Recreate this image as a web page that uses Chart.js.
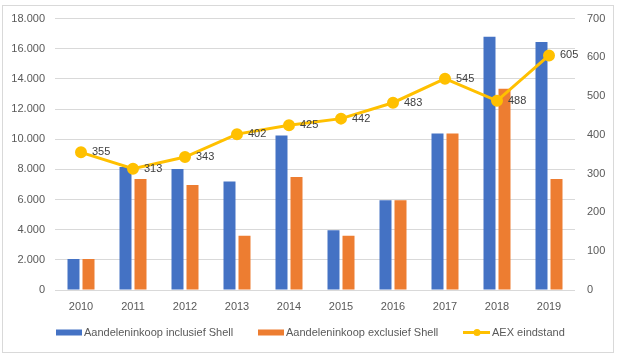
<!DOCTYPE html>
<html>
<head>
<meta charset="utf-8">
<script src="https://cdn.jsdelivr.net/npm/chart.js@4/dist/chart.umd.min.js"></script>
<style>
html,body{margin:0;padding:0;background:#fff;}
#wrap{width:620px;height:357px;position:relative;}
</style>
</head>
<body>
<div id="wrap"><canvas id="c" width="620" height="357"></canvas></div>
<script>
const years = ['2010','2011','2012','2013','2014','2015','2016','2017','2018','2019'];
const inclShell = [2050, 8150, 8030, 7200, 10250, 3970, 5950, 10380, 16800, 16450];
const exclShell = [2050, 7370, 6970, 3600, 7500, 3590, 5950, 10380, 13350, 7370];
const aex = [355, 313, 343, 402, 425, 442, 483, 545, 488, 605];
const seriesNames = ['Aandeleninkoop inclusief Shell', 'Aandeleninkoop exclusief Shell', 'AEX eindstand'];

const FONT = 'Liberation Sans, Arial, sans-serif';
const TXT = '#595959';

const frame = {
  id: 'frame',
  beforeDraw(chart) {
    const ctx = chart.ctx;
    ctx.save();
    ctx.fillStyle = '#fff';
    ctx.fillRect(0, 0, chart.width, chart.height);
    ctx.strokeStyle = '#d9d9d9';
    ctx.lineWidth = 1;
    ctx.strokeRect(2.5, 5.5, 611, 347);
    ctx.restore();
  }
};

const labels = {
  id: 'pointLabels',
  afterDatasetsDraw(chart) {
    const ctx = chart.ctx;
    const meta = chart.getDatasetMeta(2);
    ctx.save();
    ctx.font = '11px ' + FONT;
    ctx.fillStyle = '#404040';
    ctx.textAlign = 'left';
    ctx.textBaseline = 'middle';
    meta.data.forEach((pt, i) => {
      ctx.fillText(String(aex[i]), pt.x + 11, pt.y);
    });
    ctx.restore();
  }
};

const legend = {
  id: 'customLegend',
  afterDraw(chart) {
    const ctx = chart.ctx;
    const y = 332.5;
    ctx.save();
    ctx.font = '11px ' + FONT;
    ctx.fillStyle = TXT;
    ctx.textBaseline = 'middle';
    ctx.textAlign = 'left';
    ctx.fillStyle = '#4472C4';
    ctx.fillRect(56, 329.5, 26, 6);
    ctx.fillStyle = TXT;
    ctx.fillText(seriesNames[0], 84, y);
    ctx.fillStyle = '#ED7D31';
    ctx.fillRect(258, 329.5, 26, 6);
    ctx.fillStyle = TXT;
    ctx.fillText(seriesNames[1], 286, y);
    ctx.strokeStyle = '#FFC000';
    ctx.lineWidth = 3;
    ctx.beginPath();
    ctx.moveTo(463, y);
    ctx.lineTo(490, y);
    ctx.stroke();
    ctx.fillStyle = '#FFC000';
    ctx.beginPath();
    ctx.arc(477, y, 3.5, 0, Math.PI * 2);
    ctx.fill();
    ctx.fillStyle = TXT;
    ctx.fillText(seriesNames[2], 492, y);
    ctx.restore();
  }
};

new Chart(document.getElementById('c'), {
  data: {
    labels: years,
    datasets: [
      {
        type: 'bar',
        label: seriesNames[0],
        data: inclShell,
        backgroundColor: '#4472C4',
        yAxisID: 'y',
        order: 1,
        categoryPercentage: 0.577,
        barPercentage: 0.8
      },
      {
        type: 'bar',
        label: seriesNames[1],
        data: exclShell,
        backgroundColor: '#ED7D31',
        yAxisID: 'y',
        order: 1,
        categoryPercentage: 0.577,
        barPercentage: 0.8
      },
      {
        type: 'line',
        label: seriesNames[2],
        data: aex,
        borderColor: '#FFC000',
        backgroundColor: '#FFC000',
        borderWidth: 3,
        pointRadius: 4.5,
        pointBackgroundColor: '#FFC000',
        pointBorderColor: '#FFC000',
        tension: 0,
        yAxisID: 'y1',
        order: 0
      }
    ]
  },
  options: {
    responsive: false,
    animation: false,
    devicePixelRatio: 1,
    layout: { padding: { top: 15.5, left: 0, right: 0, bottom: 0 } },
    plugins: {
      legend: { display: false },
      tooltip: { enabled: false }
    },
    scales: {
      x: {
        grid: { display: false, drawTicks: false },
        border: { display: false },
        ticks: { color: TXT, font: { family: FONT, size: 11 }, padding: 10, maxRotation: 0 },
        afterFit(s) { s.height = 67; }
      },
      y: {
        position: 'left',
        min: 0, max: 18000,
        ticks: {
          stepSize: 2000,
          color: TXT,
          font: { family: FONT, size: 11 },
          padding: 10,
          callback: v => v === 0 ? '0' : v.toLocaleString('nl-NL')
        },
        grid: { color: '#d9d9d9', drawTicks: false },
        border: { display: false },
        afterFit(s) { s.width = 55; }
      },
      y1: {
        position: 'right',
        min: 0, max: 700,
        ticks: {
          stepSize: 100,
          color: TXT,
          font: { family: FONT, size: 11 },
          padding: 12
        },
        grid: { display: false, drawTicks: false },
        border: { display: false },
        afterFit(s) { s.width = 45; }
      }
    }
  },
  plugins: [frame, labels, legend]
});
</script>
</body>
</html>
